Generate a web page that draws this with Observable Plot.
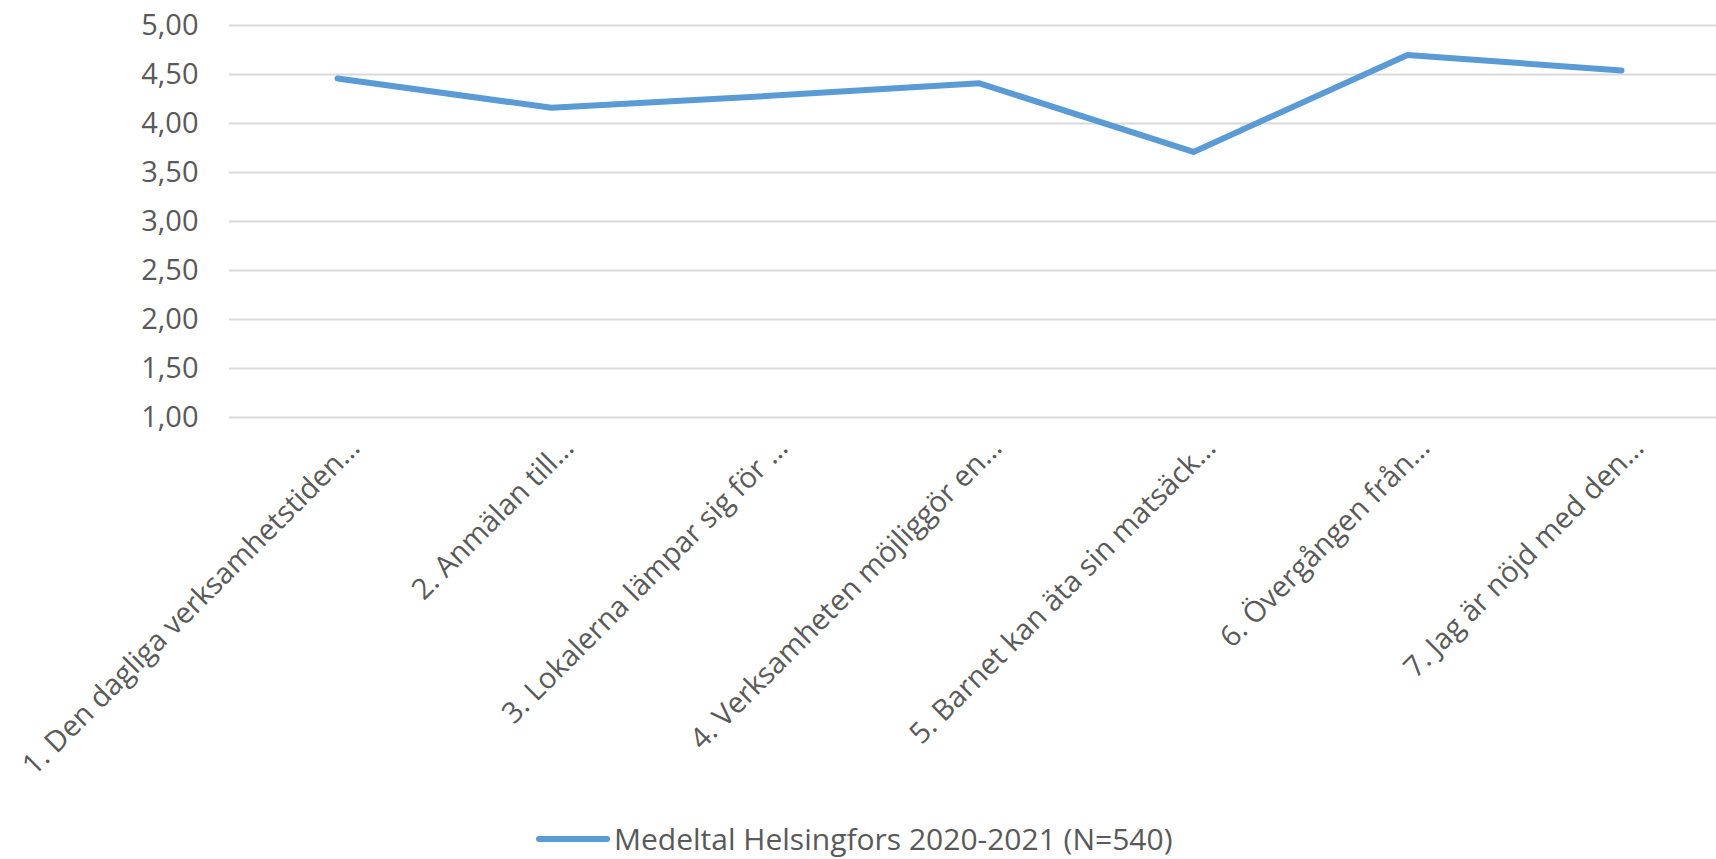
<!DOCTYPE html>
<html>
<head>
<meta charset="utf-8">
<script src="https://cdn.jsdelivr.net/npm/d3@7"></script>
<script src="https://cdn.jsdelivr.net/npm/@observablehq/plot@0.6"></script>
<style>
  html, body { margin: 0; padding: 0; background: #fff; }
  #chart svg { display: block; }
  .legend { height: 41px; display: flex; align-items: center; justify-content: flex-start;
            font-family: "Open Sans", sans-serif; font-size: 30px; color: #595959; }
  .legend .sw { display: inline-block; width: 74px; height: 6px; border-radius: 3px; background: #5B9BD5; margin-left: 536px; margin-right: 4px; }
</style>
</head>
<body>
<div id="chart"></div>
<div class="legend"><span class="sw"></span><span id="legtext"></span></div>
<script>
const categories = [
  "1. Den dagliga verksamhetstiden…",
  "2. Anmälan till…",
  "3. Lokalerna lämpar sig för …",
  "4. Verksamheten möjliggör en…",
  "5. Barnet kan äta sin matsäck…",
  "6. Övergången från…",
  "7. Jag är nöjd med den…"
];
const values = [4.46, 4.16, 4.28, 4.41, 3.71, 4.70, 4.54];
const seriesName = "Medeltal Helsingfors 2020-2021 (N=540)";
const yTicks = [1, 1.5, 2, 2.5, 3, 3.5, 4, 4.5, 5];

const data = categories.map((c, i) => ({cat: c, value: values[i]}));
const fmt = d => d.toFixed(2).replace(".", ",");

const chart = Plot.plot({
  width: 1716,
  height: 818,
  marginLeft: 229,
  marginRight: 0,
  marginTop: 25,
  marginBottom: 401,
  style: {fontFamily: "'Open Sans', sans-serif", fontSize: "29px", color: "#595959", background: "#fff"},
  x: {type: "point", domain: categories, range: [229, 1729], padding: 0.5, axis: null},
  y: {domain: [1, 5], ticks: yTicks, tickFormat: fmt, tickSize: 0, tickPadding: 31, label: null},
  marks: [
    Plot.ruleY(yTicks, {stroke: "#d9d9d9", strokeWidth: 2}),
    Plot.axisY({ticks: yTicks, tickFormat: fmt, tickSize: 0, tickPadding: 31, label: null, fill: "#595959", fontSize: 29}),
    Plot.text(categories, {x: d => d, y: () => 1, rotate: -45, textAnchor: "end", lineAnchor: "bottom",
      dx: 24, dy: 32, fill: "#595959", fontSize: 29}),
    Plot.line(data, {x: "cat", y: "value", stroke: "#5B9BD5", strokeWidth: 6, strokeLinecap: "round", strokeLinejoin: "round"})
  ]
});
document.getElementById("chart").appendChild(chart);
document.getElementById("legtext").textContent = seriesName;
</script>
</body>
</html>
